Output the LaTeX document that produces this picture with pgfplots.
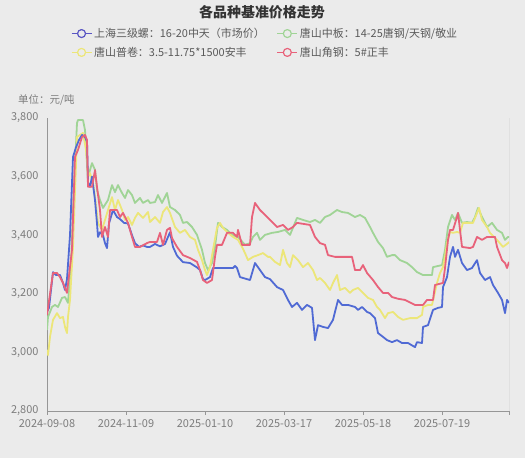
\documentclass[border=0pt]{standalone}
\usepackage{fontspec}
\setmainfont{Noto Sans CJK SC}
\usepackage{pgfplots}
\pgfplotsset{compat=1.18}
\definecolor{bg}{RGB}{235,235,235}
\definecolor{cblue}{RGB}{80,106,212}
\definecolor{cred}{RGB}{232,98,122}
\definecolor{cgreen}{RGB}{160,212,150}
\definecolor{cyellow}{RGB}{236,230,120}
\definecolor{tickc}{RGB}{125,125,125}
\definecolor{axc}{RGB}{150,150,150}
\definecolor{titlec}{RGB}{51,51,51}
\definecolor{legc}{RGB}{90,90,90}
\begin{document}
\begin{tikzpicture}[x=1bp,y=1bp]
\fill[bg] (0,0) rectangle (525,458);
\begin{axis}[
  at={(47bp,47bp)}, anchor=south west,
  scale only axis, width=462bp, height=293bp,
  xmin=0, xmax=462, ymin=2800, ymax=3800,
  axis x line*=bottom, axis y line*=left,
  axis line style={draw=axc, line width=0.8bp},
  ytick={2800,3000,3200,3400,3600,3800},
  y tick style={draw=none},
  yticklabel style={/pgf/number format/1000 sep={,}, font=\fontsize{11}{12}\selectfont, text=tickc, xshift=-1bp},
  /pgf/number format/assume math mode=true,
  xtick={0,79,158,237,316,395,462},
  xticklabels={2024-09-08,2024-11-09,2025-01-10,2025-03-17,2025-05-18,2025-07-19,{}},
  x tick style={draw=axc, line width=0.8bp},
  tick align=outside, major tick length=4bp,
  xticklabel style={font=\fontsize{11}{12}\selectfont, text=tickc, yshift=-1bp},
  every axis plot/.append style={line width=1.8bp, line join=round},
  legend columns=2,
  legend cell align=left,
  legend style={draw=none, fill=none, at={(axis description cs:0.472,1.256)}, anchor=center,
    font=\fontsize{11}{13}\selectfont, text=legc, row sep=4bp,
    /tikz/every even column/.append style={column sep=10bp}},
  legend image code/.code={\draw[#1,line width=1.2bp] (0bp,0bp)--(20bp,0bp); \draw[#1,fill=bg,line width=1.2bp] (10bp,0bp) circle (4bp);},
]
% green 唐山中板
\addplot[cgreen, forget plot] coordinates {
(0,3076)(1,3121)(5,3155)(8,3162)(11,3155)(15,3186)(18,3189)(21,3169)(24,3300)(27,3560)(30,3783)(31,3793)(36,3793)(38,3759)(41,3599)(45,3646)(48,3623)(50,3554)(53,3520)(56,3493)(61,3520)(65,3571)(68,3547)(71,3571)(75,3544)(78,3527)(81,3554)(85,3537)(88,3510)(93,3527)(96,3510)(101,3520)(103,3510)(108,3513)(111,3537)(115,3510)(120,3544)(123,3496)(128,3486)(133,3469)(136,3442)(140,3445)(145,3428)(150,3401)(155,3350)(158,3305)(161,3281)(165,3305)(168,3360)(171,3442)(175,3428)(180,3418)(185,3401)(191,3394)(198,3367)(203,3373)(206,3394)(210,3408)(213,3384)(218,3401)(225,3408)(231,3411)(238,3418)(243,3401)(250,3459)(256,3452)(263,3445)(268,3452)(273,3442)(278,3462)(283,3469)(290,3486)(295,3479)(301,3476)(308,3462)(313,3469)(318,3459)(323,3428)(326,3408)(331,3377)(336,3356)(340,3326)(345,3332)(348,3332)(353,3315)(360,3305)(365,3291)(370,3274)(376,3264)(385,3264)(386,3291)(395,3298)(398,3350)(401,3428)(405,3469)(408,3452)(411,3476)(415,3442)(420,3445)(425,3442)(428,3462)(431,3493)(435,3462)(440,3428)(445,3442)(450,3418)(455,3408)(458,3384)(461,3394)(462,3394)
};
% yellow 唐山普卷
\addplot[cyellow, forget plot] coordinates {
(0,3008)(1,2991)(3,3053)(6,3111)(10,3134)(13,3117)(16,3121)(18,3087)(20,3066)(21,3121)(23,3179)(26,3360)(28,3550)(30,3735)(33,3742)(36,3749)(39,3691)(41,3599)(43,3612)(46,3578)(48,3530)(51,3442)(55,3418)(58,3452)(61,3486)(65,3530)(68,3486)(71,3520)(75,3486)(78,3452)(81,3462)(85,3435)(88,3459)(91,3476)(96,3459)(101,3479)(103,3445)(108,3462)(113,3442)(116,3479)(120,3496)(123,3476)(128,3428)(133,3408)(138,3418)(143,3394)(148,3384)(151,3350)(155,3315)(158,3281)(160,3264)(163,3291)(166,3350)(170,3425)(173,3442)(176,3425)(181,3408)(186,3394)(191,3384)(195,3360)(198,3339)(201,3315)(206,3326)(211,3332)(216,3339)(221,3326)(223,3326)(228,3309)(233,3298)(236,3350)(240,3305)(243,3291)(246,3332)(251,3315)(256,3291)(261,3305)(266,3281)(270,3247)(273,3254)(278,3237)(283,3213)(286,3237)(290,3264)(293,3213)(298,3220)(303,3203)(306,3213)(311,3220)(316,3203)(321,3186)(326,3179)(330,3155)(333,3145)(338,3117)(341,3134)(346,3138)(351,3121)(356,3111)(363,3117)(370,3117)(375,3128)(376,3155)(381,3162)(385,3162)(390,3237)(393,3271)(396,3291)(398,3326)(400,3373)(403,3411)(406,3408)(410,3411)(413,3408)(416,3442)(421,3442)(426,3442)(430,3476)(432,3493)(435,3452)(440,3428)(443,3408)(450,3384)(456,3360)(461,3373)(462,3377)
};
% blue 上海三级螺
\addplot[cblue, forget plot] coordinates {
(0,3138)(2,3152)(6,3274)(9,3264)(13,3264)(16,3237)(18,3213)(20,3250)(23,3400)(26,3667)(29,3700)(32,3725)(35,3742)(38,3735)(40,3720)(41,3580)(43,3565)(45,3600)(48,3520)(50,3440)(51,3394)(53,3410)(56,3400)(58,3373)(60,3356)(62,3440)(66,3486)(70,3462)(73,3455)(77,3442)(81,3440)(85,3400)(88,3373)(92,3360)(96,3365)(100,3360)(103,3360)(108,3370)(113,3362)(118,3370)(123,3410)(126,3360)(130,3330)(136,3308)(143,3305)(150,3290)(153,3281)(156,3250)(158,3247)(163,3257)(166,3288)(168,3288)(186,3288)(188,3295)(190,3288)(193,3257)(200,3250)(203,3247)(208,3305)(213,3281)(218,3257)(223,3250)(230,3223)(236,3213)(241,3179)(245,3155)(250,3169)(255,3145)(260,3162)(265,3152)(268,3042)(271,3093)(276,3087)(281,3083)(286,3111)(291,3179)(295,3162)(301,3162)(308,3155)(311,3145)(315,3155)(320,3138)(323,3134)(328,3117)(331,3066)(336,3053)(340,3042)(345,3035)(350,3042)(355,3032)(361,3032)(368,3018)(370,3035)(375,3032)(376,3087)(381,3093)(386,3145)(391,3152)(395,3155)(396,3223)(400,3257)(403,3326)(406,3360)(408,3326)(411,3350)(415,3305)(420,3281)(425,3288)(430,3315)(433,3271)(438,3247)(443,3257)(446,3230)(451,3203)(455,3179)(458,3134)(460,3179)(462,3169)
};
% red 唐山角钢
\addplot[cred, forget plot] coordinates {
(0,3128)(6,3271)(10,3271)(13,3257)(16,3237)(20,3203)(23,3291)(25,3350)(28,3667)(31,3691)(35,3735)(38,3742)(40,3725)(41,3565)(45,3565)(48,3622)(50,3565)(53,3486)(55,3394)(58,3428)(61,3394)(63,3486)(70,3486)(73,3462)(76,3476)(81,3442)(85,3394)(88,3360)(93,3360)(100,3373)(103,3377)(110,3377)(113,3408)(116,3367)(120,3418)(123,3425)(125,3390)(130,3360)(136,3332)(143,3322)(150,3309)(153,3281)(156,3247)(160,3237)(165,3247)(168,3326)(170,3367)(175,3367)(180,3408)(186,3408)(190,3394)(191,3418)(195,3367)(203,3367)(205,3462)(208,3510)(213,3486)(218,3469)(223,3452)(230,3428)(236,3435)(241,3418)(246,3428)(250,3442)(263,3435)(268,3394)(273,3373)(278,3367)(281,3332)(288,3326)(305,3326)(308,3281)(313,3281)(316,3298)(320,3271)(326,3247)(331,3223)(336,3203)(341,3203)(345,3189)(351,3183)(358,3179)(368,3162)(376,3162)(380,3179)(386,3179)(388,3230)(396,3237)(398,3288)(401,3384)(403,3418)(406,3418)(410,3462)(411,3476)(415,3360)(423,3356)(426,3360)(430,3394)(435,3384)(440,3394)(448,3394)(450,3360)(455,3315)(458,3305)(460,3288)(462,3309)
};
\addlegendimage{color=cblue!80!violet}
\addlegendentry{上海三级螺：16-20中天（市场价）}
\addlegendimage{color=cgreen}
\addlegendentry{唐山中板：14-25唐钢/天钢/敬业}
\addlegendimage{color=cyellow}
\addlegendentry{唐山普卷：3.5-11.75*1500安丰}
\addlegendimage{color=cred}
\addlegendentry{唐山角钢：5\#正丰}
\draw[axc, line width=0.8bp] (rel axis cs:1,0) -- (rel axis cs:1,1);
\end{axis}
\node[anchor=center, font=\fontsize{14}{16}\selectfont\bfseries, text=titlec] at (262,446) {各品种基准价格走势};
\node[anchor=west, font=\fontsize{10.5}{12}\selectfont, text=tickc, inner sep=0pt] at (18,358) {单位：元/吨};
\end{tikzpicture}
\end{document}
